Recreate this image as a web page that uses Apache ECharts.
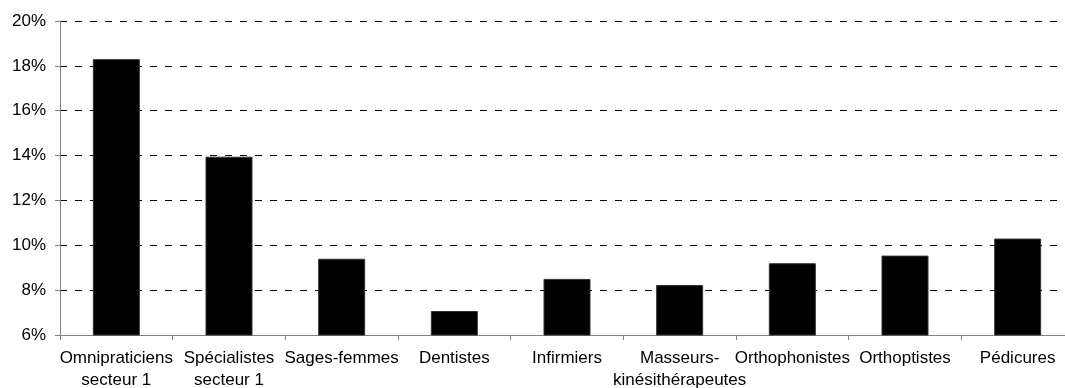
<!DOCTYPE html>
<html>
<head>
<meta charset="utf-8">
<script src="https://cdn.jsdelivr.net/npm/echarts@6/dist/echarts.min.js"></script>
<style>
html,body{margin:0;padding:0;background:#fff;}
#chart{width:1065px;height:388px;}
</style>
</head>
<body>
<div id="chart"></div>
<script>
const categories = ["Omnipraticiens\nsecteur 1", "Spécialistes\nsecteur 1", "Sages-femmes", "Dentistes", "Infirmiers", "Masseurs-\nkinésithérapeutes", "Orthophonistes", "Orthoptistes", "Pédicures"];
const values = [18.3, 13.95, 9.4, 7.07, 8.5, 8.23, 9.2, 9.54, 10.3];
const yTicks = [6, 8, 10, 12, 14, 16, 18, 20];

const chart = echarts.init(document.getElementById('chart'), null, {renderer: 'canvas'});
const font = 'Liberation Sans, Arial, sans-serif';
chart.setOption({
  animation: false,
  backgroundColor: '#fff',
  grid: {left: 60, top: 21, width: 1014, bottom: 53, containLabel: false, outerBoundsMode: 'none'},
  xAxis: {
    type: 'category',
    data: categories,
    axisLine: {lineStyle: {color: '#808080', width: 1}},
    axisTick: {show: true, length: 5, lineStyle: {color: '#808080'}},
    axisLabel: {color: '#000', fontFamily: font, fontSize: 17, lineHeight: 22, margin: 12, interval: 0},
    splitLine: {show: false}
  },
  yAxis: {
    type: 'value',
    min: yTicks[0],
    max: yTicks[yTicks.length - 1],
    interval: 2,
    axisLine: {show: true, lineStyle: {color: '#808080', width: 1}},
    axisTick: {show: true, length: 5, lineStyle: {color: '#808080'}},
    axisLabel: {color: '#000', fontFamily: font, fontSize: 17, margin: 14, formatter: '{value}%'},
    splitLine: {show: true, lineStyle: {color: '#000', type: [7, 8], width: 1}}
  },
  series: [{
    type: 'bar',
    data: values,
    barWidth: 47,
    itemStyle: {color: '#000', borderColor: '#333', borderWidth: 1}
  }]
});
</script>
</body>
</html>
